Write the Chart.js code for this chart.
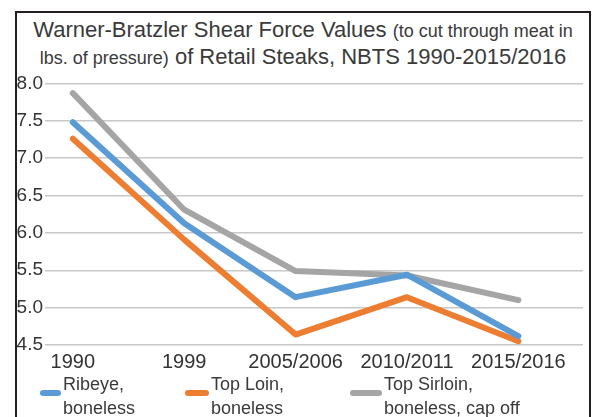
<!DOCTYPE html>
<html lang="en">
<head>
    <meta charset="UTF-8">
    <meta name="viewport" content="width=device-width, initial-scale=1.0">
    <title>Warner-Bratzler Shear Force Values</title>
    <script src="https://cdn.jsdelivr.net/npm/chart.js"></script>
    <style>
        html, body {
            margin: 0;
            padding: 0;
            background: #fff;
        }
        body {
            width: 597px;
            height: 417px;
            overflow: hidden;
            position: relative;
            font-family: 'Liberation Sans', Arial, sans-serif;
            color: #3a3a3a;
        }
        .frame {
            position: absolute;
            left: 15px;
            top: 11px;
            width: 572px;
            height: 420px;
            border: 2px solid #231f20;
            border-bottom: none;
        }
        .title {
            position: absolute;
            left: 17px;
            top: 16px;
            width: 572px;
            text-align: center;
            font-size: 22px;
            white-space: nowrap;
        }
        .title div {
            height: 27px;
            line-height: 27px;
        }
        .title small {
            font-size: 18px;
            line-height: 1;
        }
        .chart-box {
            position: absolute;
            left: 17px;
            top: 70px;
            width: 572px;
            height: 308px;
        }
        .legend {
            position: absolute;
            left: 40px;
            top: 372px;
            display: flex;
            font-size: 18px;
            line-height: 24px;
        }
        .legend .item {
            display: flex;
            align-items: flex-start;
        }
        .legend .item:nth-child(1) { width: 145px; }
        .legend .item:nth-child(2) { width: 165px; }
        .legend .swatch {
            height: 6px;
            border-radius: 3px;
            margin-top: 18px;
            margin-right: 2px;
        }
        .legend .item:nth-child(1) .swatch { width: 21px; }
        .legend .item:nth-child(2) .swatch { width: 24px; }
        .legend .item:nth-child(3) .swatch { width: 32px; }
        .legend .text {
            white-space: pre-line;
        }
    </style>
</head>
<body>
    <div class="frame"></div>
    <div class="title">
        <div>Warner-Bratzler Shear Force Values <small>(to cut through meat in</small></div>
        <div><small>lbs. of pressure)</small> of Retail Steaks, NBTS 1990-2015/2016</div>
    </div>
    <div class="chart-box">
        <canvas id="steakChart"></canvas>
    </div>
    <div class="legend" id="legend"></div>

    <script>
        // survey years
        const categories = ['1990', '1999', '2005/2006', '2010/2011', '2015/2016'];

        // shear force, lbs
        const ribeye = [7.48, 6.13, 5.14, 5.44, 4.62];
        const topLoin = [7.26, 5.91, 4.64, 5.14, 4.55];
        const topSirloin = [7.87, 6.31, 5.49, 5.43, 5.10];

        const seriesNames = ['Ribeye,\nboneless', 'Top Loin,\nboneless', 'Top Sirloin,\nboneless, cap off'];
        const seriesColors = ['#5b9bd5', '#ed7d31', '#a5a5a5'];

        const yMin = 4.5;
        const yMax = 8.0;
        const yStep = 0.5;

        Chart.defaults.font.family = "'Liberation Sans', Arial, sans-serif";
        Chart.defaults.color = '#333';

        const seriesValues = [ribeye, topLoin, topSirloin];

        const ctx = document.getElementById('steakChart').getContext('2d');
        const chart = new Chart(ctx, {
            type: 'line',
            data: {
                datasets: seriesValues.map((values, i) => ({
                    label: seriesNames[i].replace('\n', ' '),
                    data: values.map((v, j) => ({ x: j, y: v })),
                    borderColor: seriesColors[i],
                    backgroundColor: seriesColors[i],
                    borderWidth: 6,
                    borderCapStyle: 'round',
                    borderJoinStyle: 'round',
                    pointRadius: 0,
                    tension: 0
                }))
            },
            options: {
                responsive: true,
                maintainAspectRatio: false,
                animation: false,
                layout: {
                    padding: { top: 12, right: 6, bottom: 7, left: 0 }
                },
                plugins: {
                    legend: { display: false },
                    tooltip: { enabled: false }
                },
                scales: {
                    x: {
                        type: 'linear',
                        min: -0.25,
                        max: 4.58,
                        grid: { display: false },
                        border: { display: false },
                        ticks: {
                            stepSize: 1,
                            includeBounds: false,
                            autoSkip: false,
                            maxRotation: 0,
                            padding: -3,
                            font: { size: 20 },
                            callback: v => categories[Math.round(v)] ?? ''
                        }
                    },
                    y: {
                        min: yMin,
                        max: yMax,
                        grid: { color: '#c8c8c8', lineWidth: 1.5, drawTicks: false },
                        border: { display: false },
                        ticks: {
                            stepSize: yStep,
                            padding: 2,
                            font: { size: 19 },
                            callback: v => v.toFixed(1)
                        },
                        afterFit: scale => { scale.width = 28; }
                    }
                }
            }
        });

        // legend below the chart
        const legend = document.getElementById('legend');
        seriesNames.forEach((name, i) => {
            const item = document.createElement('div');
            item.className = 'item';
            const swatch = document.createElement('span');
            swatch.className = 'swatch';
            swatch.style.background = seriesColors[i];
            const text = document.createElement('span');
            text.className = 'text';
            text.textContent = name;
            item.appendChild(swatch);
            item.appendChild(text);
            legend.appendChild(item);
        });
    </script>
</body>
</html>
